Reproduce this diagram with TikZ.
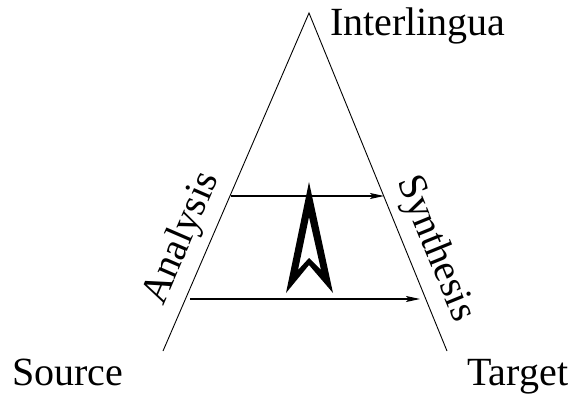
\documentclass[tikz,border=0pt]{standalone}
\usepackage{fontspec}
\setmainfont{Liberation Serif}
\usetikzlibrary{arrows.meta}
\begin{document}
\begin{tikzpicture}[x=1pt,y=1pt,
  edge/.style={line width=0.9pt},
  flow/.style={line width=1.1pt,-{Stealth[length=14pt,width=6pt,inset=3pt]}},
  lbl/.style={inner sep=0pt,font=\fontsize{40}{40}\selectfont}]
\useasboundingbox (0,0) rectangle (575,394);
% triangle
\coordinate (apex) at (309,381);
\coordinate (src) at (163,43);
\coordinate (tgt) at (447,43);
\draw[edge] (src) -- (apex) -- (tgt);
% transfer arrows
\coordinate (a1) at (231,198);
\coordinate (b1) at (384,198);
\coordinate (a2) at (190,95);
\coordinate (b2) at (420,95);
\draw[flow] (a1) -- (b1);
\draw[flow] (a2) -- (b2);
% central hollow arrowhead
\coordinate (o1) at (309,212);
\coordinate (o2) at (333,101);
\coordinate (o3) at (309,129);
\coordinate (o4) at (286,101);
\coordinate (i1) at (309,177);
\coordinate (i2) at (321,124);
\coordinate (i3) at (309,136);
\coordinate (i4) at (298,124);
\fill[even odd rule] (o1) -- (o2) -- (o3) -- (o4) -- cycle
  (i1) -- (i2) -- (i3) -- (i4) -- cycle;
% labels
\node[lbl,anchor=base west] (inter) at (330,358) {Interlingua};
\node[lbl,anchor=base west] (source) at (12,9) {Source};
\node[lbl,anchor=base west] (target) at (467,9) {Target};
\node[lbl,anchor=base,rotate=66.6] (analysis) at (190.8,151.3) {Analysis};
\node[lbl,anchor=base,rotate=-67.8] (synthesis) at (426,141.5) {Synthesis};
\end{tikzpicture}
\end{document}
